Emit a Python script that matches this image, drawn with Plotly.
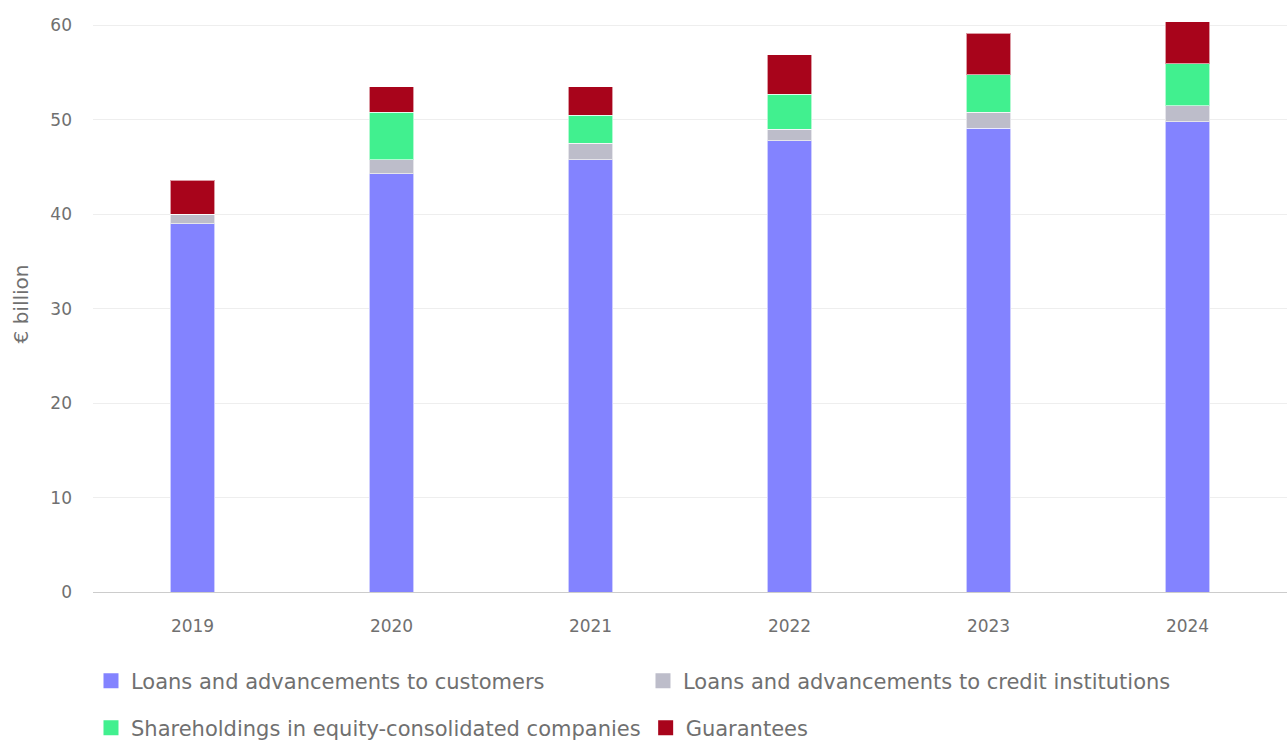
import plotly.graph_objects as go

years = ["2019", "2020", "2021", "2022", "2023", "2024"]
customers = [39.0, 44.3, 45.8, 47.8, 49.1, 49.8]
credit_inst = [1.0, 1.5, 1.7, 1.2, 1.7, 1.7]
shareholdings = [0.0, 5.0, 3.0, 3.7, 4.0, 4.45]
guarantees = [3.6, 2.7, 3.0, 4.2, 4.35, 4.45]

names = ["Loans and advancements to customers",
         "Loans and advancements to credit institutions",
         "Shareholdings in equity-consolidated companies",
         "Guarantees"]
colors = ["#8383FF", "#BDBDCA", "#41F08F", "#A8041B"]
series = [customers, credit_inst, shareholdings, guarantees]
legends = ["legend", "legend", "legend2", "legend2"]

fig = go.Figure()
for n, c, s, lg in zip(names, colors, series, legends):
    fig.add_trace(go.Bar(x=years, y=s, name=n, marker_color=c,
                         marker_line=dict(color="rgba(255,255,255,0.6)", width=1),
                         showlegend=False, legendgroup=n))
# legend entries with larger square swatches
for n, c, lg in zip(names, colors, legends):
    fig.add_trace(go.Scatter(x=[None], y=[None], mode="markers", name=n,
                             marker=dict(symbol="square", size=15, color=c),
                             legend=lg, legendgroup=n, showlegend=True))

font_family = "DejaVu Sans, sans-serif"
txt = "#707070"
fig.update_layout(
    barmode="stack",
    bargap=0.775,
    width=1287, height=740,
    margin=dict(l=93, r=0, t=16, b=148, autoexpand=False),
    plot_bgcolor="white", paper_bgcolor="white",
    font=dict(family=font_family, color=txt, size=17),
    xaxis=dict(showline=True, linecolor="#cccccc", linewidth=1, ticks="",
               ticklabelstandoff=19, tickfont=dict(size=17, color=txt)),
    yaxis=dict(range=[0, 61], tickvals=[0, 10, 20, 30, 40, 50, 60],
               gridcolor="#eeeeee", zeroline=False,
               ticklabelstandoff=20, tickfont=dict(size=17, color=txt)),
    legend=dict(orientation="h", xref="container", x=0.0707, xanchor="left",
                yref="container", y=0.0797, yanchor="middle",
                entrywidth=507, entrywidthmode="pixels", traceorder="normal",
                font=dict(size=21, color=txt), itemwidth=30),
    legend2=dict(orientation="h", xref="container", x=0.0707, xanchor="left",
                 yref="container", y=0.0162, yanchor="middle",
                 traceorder="normal",
                 font=dict(size=21, color=txt), itemwidth=30),
)
fig.update_yaxes(title=dict(text="€ billion", font=dict(size=20, color=txt), standoff=16))
fig.write_html("out.html")
